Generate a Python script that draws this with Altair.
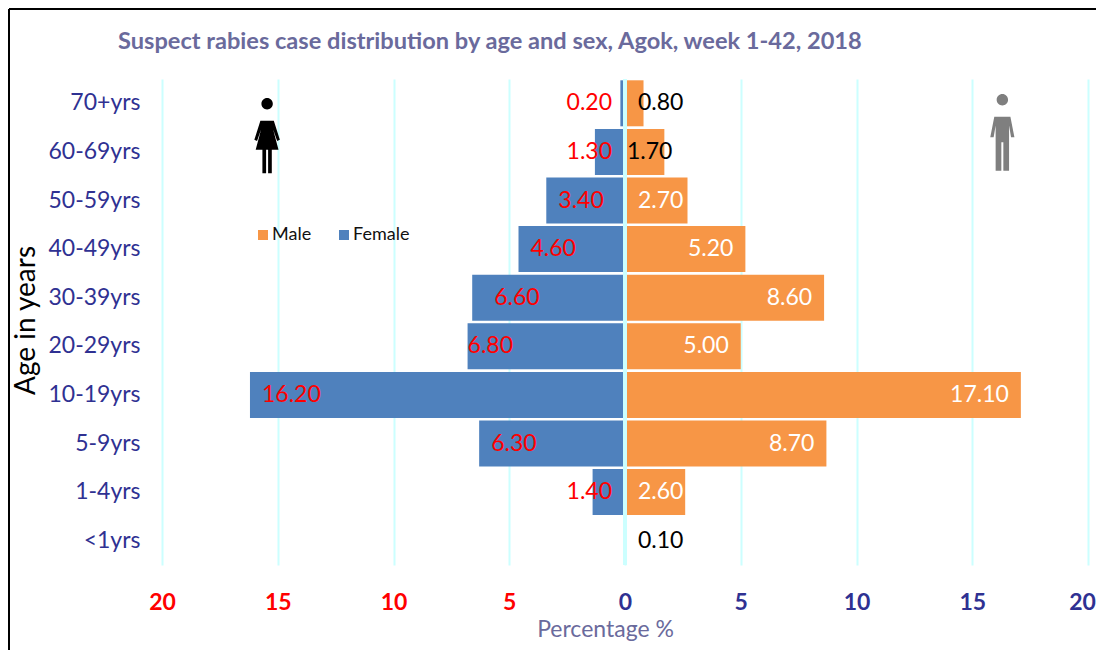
import altair as alt
import pandas as pd

ages = ["70+yrs", "60-69yrs", "50-59yrs", "40-49yrs", "30-39yrs", "20-29yrs", "10-19yrs", "5-9yrs", "1-4yrs", "<1yrs"]
female = [0.20, 1.30, 3.40, 4.60, 6.60, 6.80, 16.20, 6.30, 1.40, 0.0]
male = [0.80, 1.70, 2.70, 5.20, 8.60, 5.00, 17.10, 8.70, 2.60, 0.10]

FONT = "Lato"
NAVY = "#2f3192"
TITLE = "#6a6a9c"
ORANGE = "#f79646"
BLUE = "#4f81bd"
GRID = "#ccffff"

df = pd.DataFrame({"age": ages, "female": female, "male": male})
df["neg"] = [-v for v in female]
df["zero"] = 0
df["f_txt"] = [f"{v:.2f}" for v in female]
df["m_txt"] = [f"{v:.2f}" for v in male]
long = pd.concat([
    pd.DataFrame({"age": ages, "v": [-v for v in female], "Sex": "Female"}),
    pd.DataFrame({"age": ages, "v": male, "Sex": "Male"}),
])
long = long[long.v.abs() >= 0.2]

W, H = 926, 486
x_scale = alt.Scale(domain=[-20, 20], nice=False, zero=False)
y_scale = alt.Scale(domain=ages, paddingInner=0.04, paddingOuter=0.02)

bars = alt.Chart(long).mark_bar(size=46).encode(
    x=alt.X("v:Q", scale=x_scale, axis=alt.Axis(
        values=[-20, -15, -10, -5, 0, 5, 10, 15, 20], labelExpr="abs(datum.value)",
        labelFont=FONT, labelFontWeight="bold", labelFontSize=23, labelPadding=26,
        labelColor={"condition": {"test": "datum.value<0", "value": "#ff0000"}, "value": NAVY},
        labelOffset={"condition": {"test": "datum.value==20", "value": -6}, "value": 0},
        grid=True, gridColor=GRID, gridWidth=2, domain=False, ticks=False, labelFlush=False,
        title="Percentage %", titleFont=FONT, titleFontSize=23, titleFontWeight="normal",
        titleColor=TITLE, titleX=443, titleY=53,
    )),
    y=alt.Y("age:N", scale=y_scale, sort=ages, axis=alt.Axis(
        labelFont=FONT, labelFontSize=23, labelColor=NAVY, labelPadding=22,
        domain=False, ticks=False, grid=False,
        title="Age in years", titleFont=FONT, titleFontSize=28, titleFontWeight="normal",
        titleColor="#000000", titleX=-122, titleY=241,
    )),
    color=alt.Color("Sex:N", scale=alt.Scale(domain=["Male", "Female"], range=[ORANGE, BLUE]),
                    legend=alt.Legend(title=None, orient="none", legendX=92, legendY=147, direction="horizontal",
                                      symbolType="square", symbolSize=100, symbolStrokeWidth=0,
                                      labelFont=FONT, labelFontSize=18, labelColor="#111111",
                                      labelOffset=0, columnPadding=23)),
)
zero = alt.Chart(df).mark_rule(color=GRID, strokeWidth=3).encode(x=alt.X("zero:Q", scale=x_scale))


def labels(ids, field, txt, align, dx, color):
    sub = df.iloc[ids]
    return alt.Chart(sub).mark_text(font=FONT, fontSize=23, align=align, dx=dx, color=color).encode(
        x=alt.X(f"{field}:Q", scale=x_scale), y=alt.Y("age:N", scale=y_scale, sort=ages), text=f"{txt}:N")


WOMAN = ("M0,-1 A0.17,0.17 0 1 1 0.001,-1 M-0.2,-0.66 L0.2,-0.66 L0.38,-0.1 L0.3,-0.06 L0.18,-0.4 L0.34,0.2 "
         "L0.14,0.2 L0.14,0.9 L0.03,0.9 L0.03,0.2 L-0.03,0.2 L-0.03,0.9 L-0.14,0.9 L-0.14,0.2 L-0.34,0.2 L-0.18,-0.4 "
         "L-0.3,-0.06 L-0.38,-0.1 Z")
MAN = ("M0,-1 A0.17,0.17 0 1 1 0.001,-1 M-0.24,-0.66 L0.24,-0.66 L0.36,-0.05 L0.26,-0.05 L0.2,-0.4 L0.2,0.95 "
       "L0.03,0.95 L0.03,0.1 L-0.03,0.1 L-0.03,0.95 L-0.2,0.95 L-0.2,-0.4 L-0.26,-0.05 L-0.36,-0.05 Z")
icon_w = alt.Chart(pd.DataFrame({"x": [-15.46]})).mark_point(shape=WOMAN, filled=True, color="#000000", opacity=1, size=4500).encode(
    x=alt.X("x:Q", scale=x_scale), y=alt.value(64))
icon_m = alt.Chart(pd.DataFrame({"x": [16.3]})).mark_point(shape=MAN, filled=True, color="#7f7f7f", opacity=1, size=4500).encode(
    x=alt.X("x:Q", scale=x_scale), y=alt.value(60))

# outer frame: left and top edges only, as the reference shows
one = pd.DataFrame({"a": [0]})
frame_top = alt.Chart(one).mark_rule(color="#000000", strokeWidth=2).encode(
    x=alt.value(-153), x2=alt.value(W + 8), y=alt.value(-70))
frame_left = alt.Chart(one).mark_rule(color="#000000", strokeWidth=2).encode(
    x=alt.value(-153), y=alt.value(-70), y2=alt.value(H + 85))

layers = [
    frame_top, frame_left, bars, zero,
    labels([6, 7, 3, 2], "neg", "f_txt", "left", 12, "#ff0000"),
    labels([4], "neg", "f_txt", "left", 22, "#ff0000"),
    labels([5], "neg", "f_txt", "left", 0, "#ff0000"),
    labels([0, 1, 8], "zero", "f_txt", "right", -13, "#ff0000"),
    labels([3, 4, 5, 6, 7], "male", "m_txt", "right", -12, "#ffffff"),
    labels([2, 8], "zero", "m_txt", "left", 13, "#ffffff"),
    labels([0, 9], "zero", "m_txt", "left", 13, "#000000"),
    labels([1], "zero", "m_txt", "left", 2, "#000000"),
    icon_w, icon_m,
]

chart = alt.layer(*layers).properties(
    width=W, height=H,
    padding={"left": 154, "top": 71, "right": 8, "bottom": 85},
    autosize=alt.AutoSizeParams(type="none"),
    title=alt.TitleParams("Suspect rabies case distribution by age and sex, Agok, week 1-42, 2018",
                          font=FONT, fontSize=23.6, fontWeight="bold", color=TITLE,
                          anchor="start", frame="group", dx=-44, offset=0, dy=46),
).configure_view(stroke=None)

chart.save("out.html", embed_options={"renderer": "svg", "actions": False})
